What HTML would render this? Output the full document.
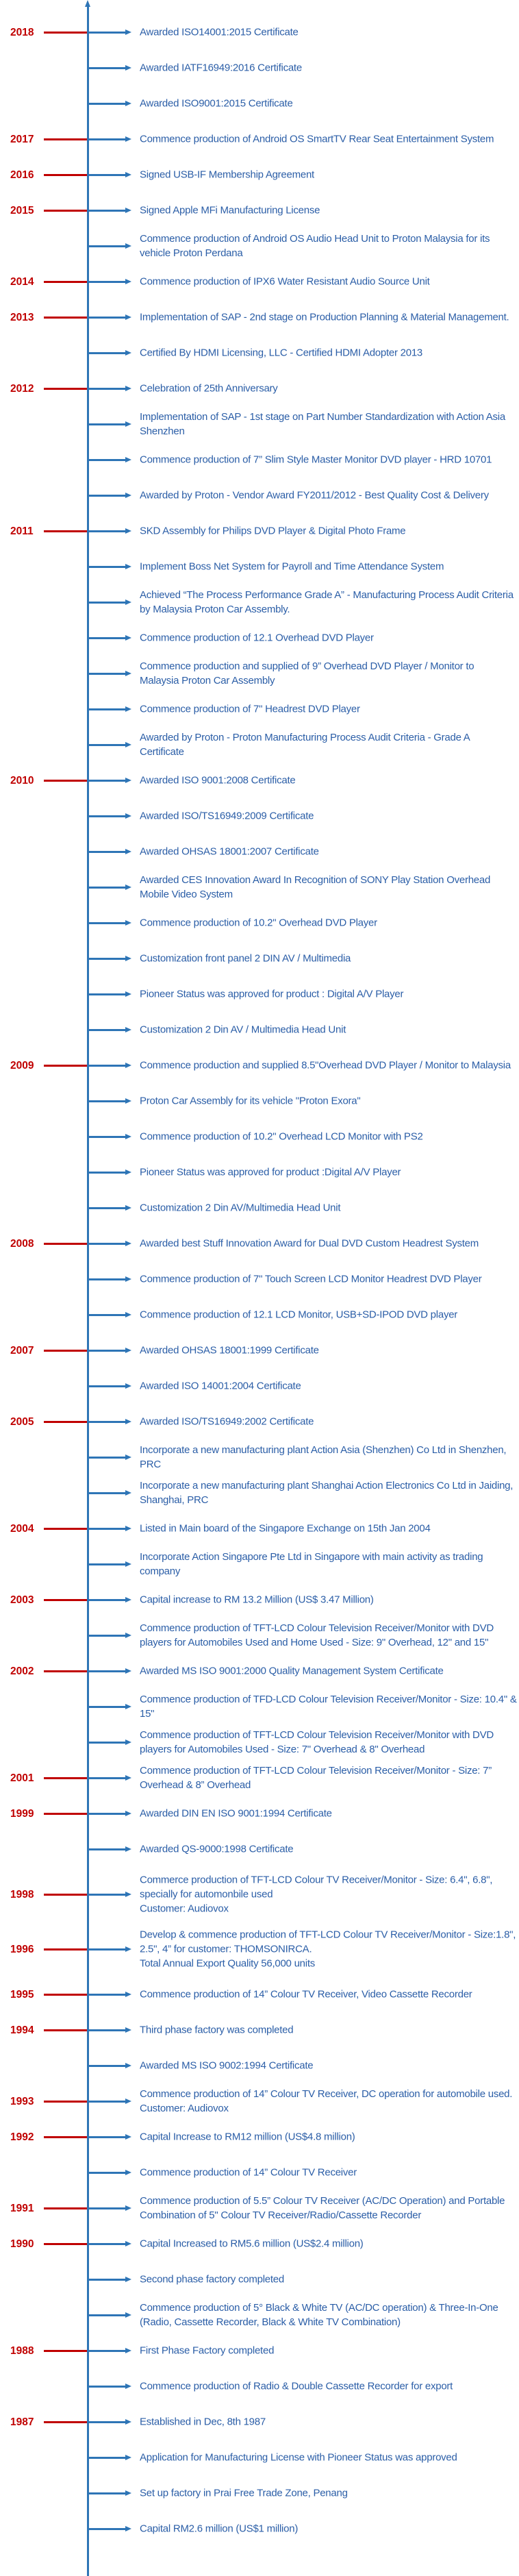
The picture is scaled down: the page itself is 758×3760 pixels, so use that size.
<!DOCTYPE html>
<html>
<head>
<meta charset="utf-8">
<style>
html,body{margin:0;padding:0;}
body{width:758px;height:3760px;position:relative;background:#fff;overflow:hidden;font-family:"Liberation Sans",Arial,sans-serif;}
.axis{position:absolute;left:127px;top:8px;width:3px;height:3752px;background:#2E75B6;}
.axh{position:absolute;left:124px;top:0;width:0;height:0;border-left:4.5px solid transparent;border-right:4.5px solid transparent;border-bottom:10px solid #2E75B6;}
.list{position:absolute;top:21px;left:0;width:758px;}
.r{position:relative;height:52px;}
.r3{height:80px;}
.y{position:absolute;left:15px;top:50%;margin-top:-10.5px;line-height:21px;font-size:15.5px;font-weight:bold;color:#C00000;}
.rl{position:absolute;left:64px;width:63px;top:50%;margin-top:-1.5px;height:3px;background:#C00000;}
.bl{position:absolute;left:130px;width:54px;top:50%;margin-top:-1.5px;height:3px;background:#2E75B6;}
.ah{position:absolute;left:183px;top:50%;margin-top:-4px;width:0;height:0;border-left:9px solid #2E75B6;border-top:4px solid transparent;border-bottom:4px solid transparent;}
.t{position:absolute;left:204px;top:50%;transform:translateY(-50%);font-size:15px;letter-spacing:-0.25px;line-height:21px;color:#2B5EA7;white-space:nowrap;}
</style>
</head>
<body>
<div class="axis"></div>
<div class="axh"></div>
<div class="list">

<div class="r"><span class="rl"></span><span class="y">2018</span><span class="bl"></span><span class="ah"></span><div class="t">Awarded ISO14001:2015 Certificate</div></div>
<div class="r"><span class="bl"></span><span class="ah"></span><div class="t">Awarded IATF16949:2016 Certificate</div></div>
<div class="r"><span class="bl"></span><span class="ah"></span><div class="t">Awarded ISO9001:2015 Certificate</div></div>
<div class="r"><span class="rl"></span><span class="y">2017</span><span class="bl"></span><span class="ah"></span><div class="t">Commence production of Android OS SmartTV Rear Seat Entertainment System</div></div>
<div class="r"><span class="rl"></span><span class="y">2016</span><span class="bl"></span><span class="ah"></span><div class="t">Signed USB-IF Membership Agreement</div></div>
<div class="r"><span class="rl"></span><span class="y">2015</span><span class="bl"></span><span class="ah"></span><div class="t">Signed Apple MFi Manufacturing License</div></div>
<div class="r"><span class="bl"></span><span class="ah"></span><div class="t">Commence production of Android OS Audio Head Unit to Proton Malaysia for its<br>vehicle Proton Perdana</div></div>
<div class="r"><span class="rl"></span><span class="y">2014</span><span class="bl"></span><span class="ah"></span><div class="t">Commence production of IPX6 Water Resistant Audio Source Unit</div></div>
<div class="r"><span class="rl"></span><span class="y">2013</span><span class="bl"></span><span class="ah"></span><div class="t">Implementation of SAP - 2nd stage on Production Planning &amp; Material Management.</div></div>
<div class="r"><span class="bl"></span><span class="ah"></span><div class="t">Certified By HDMI Licensing, LLC - Certified HDMI Adopter 2013</div></div>
<div class="r"><span class="rl"></span><span class="y">2012</span><span class="bl"></span><span class="ah"></span><div class="t">Celebration of 25th Anniversary</div></div>
<div class="r"><span class="bl"></span><span class="ah"></span><div class="t">Implementation of SAP - 1st stage on Part Number Standardization with Action Asia<br>Shenzhen</div></div>
<div class="r"><span class="bl"></span><span class="ah"></span><div class="t">Commence production of 7” Slim Style Master Monitor DVD player - HRD 10701</div></div>
<div class="r"><span class="bl"></span><span class="ah"></span><div class="t">Awarded by Proton - Vendor Award FY2011/2012 - Best Quality Cost &amp; Delivery</div></div>
<div class="r"><span class="rl"></span><span class="y">2011</span><span class="bl"></span><span class="ah"></span><div class="t">SKD Assembly for Philips DVD Player &amp; Digital Photo Frame</div></div>
<div class="r"><span class="bl"></span><span class="ah"></span><div class="t">Implement Boss Net System for Payroll and Time Attendance System</div></div>
<div class="r"><span class="bl"></span><span class="ah"></span><div class="t">Achieved “The Process Performance Grade A” - Manufacturing Process Audit Criteria<br>by Malaysia Proton Car Assembly.</div></div>
<div class="r"><span class="bl"></span><span class="ah"></span><div class="t">Commence production of 12.1 Overhead DVD Player</div></div>
<div class="r"><span class="bl"></span><span class="ah"></span><div class="t">Commence production and supplied of 9” Overhead DVD Player / Monitor to<br>Malaysia Proton Car Assembly</div></div>
<div class="r"><span class="bl"></span><span class="ah"></span><div class="t">Commence production of 7" Headrest DVD Player</div></div>
<div class="r"><span class="bl"></span><span class="ah"></span><div class="t">Awarded by Proton - Proton Manufacturing Process Audit Criteria - Grade A<br>Certificate</div></div>
<div class="r"><span class="rl"></span><span class="y">2010</span><span class="bl"></span><span class="ah"></span><div class="t">Awarded ISO 9001:2008 Certificate</div></div>
<div class="r"><span class="bl"></span><span class="ah"></span><div class="t">Awarded ISO/TS16949:2009 Certificate</div></div>
<div class="r"><span class="bl"></span><span class="ah"></span><div class="t">Awarded OHSAS 18001:2007 Certificate</div></div>
<div class="r"><span class="bl"></span><span class="ah"></span><div class="t">Awarded CES Innovation Award In Recognition of SONY Play Station Overhead<br>Mobile Video System</div></div>
<div class="r"><span class="bl"></span><span class="ah"></span><div class="t">Commence production of 10.2" Overhead DVD Player</div></div>
<div class="r"><span class="bl"></span><span class="ah"></span><div class="t">Customization front panel 2 DIN AV / Multimedia</div></div>
<div class="r"><span class="bl"></span><span class="ah"></span><div class="t">Pioneer Status was approved for product : Digital A/V Player</div></div>
<div class="r"><span class="bl"></span><span class="ah"></span><div class="t">Customization 2 Din AV / Multimedia Head Unit</div></div>
<div class="r"><span class="rl"></span><span class="y">2009</span><span class="bl"></span><span class="ah"></span><div class="t">Commence production and supplied 8.5"Overhead DVD Player / Monitor to Malaysia</div></div>
<div class="r"><span class="bl"></span><span class="ah"></span><div class="t">Proton Car Assembly for its vehicle "Proton Exora"</div></div>
<div class="r"><span class="bl"></span><span class="ah"></span><div class="t">Commence production of 10.2" Overhead LCD Monitor with PS2</div></div>
<div class="r"><span class="bl"></span><span class="ah"></span><div class="t">Pioneer Status was approved for product :Digital A/V Player</div></div>
<div class="r"><span class="bl"></span><span class="ah"></span><div class="t">Customization 2 Din AV/Multimedia Head Unit</div></div>
<div class="r"><span class="rl"></span><span class="y">2008</span><span class="bl"></span><span class="ah"></span><div class="t">Awarded best Stuff Innovation Award for Dual DVD Custom Headrest System</div></div>
<div class="r"><span class="bl"></span><span class="ah"></span><div class="t">Commence production of 7" Touch Screen LCD Monitor Headrest DVD Player</div></div>
<div class="r"><span class="bl"></span><span class="ah"></span><div class="t">Commence production of 12.1 LCD Monitor, USB+SD-IPOD DVD player</div></div>
<div class="r"><span class="rl"></span><span class="y">2007</span><span class="bl"></span><span class="ah"></span><div class="t">Awarded OHSAS 18001:1999 Certificate</div></div>
<div class="r"><span class="bl"></span><span class="ah"></span><div class="t">Awarded ISO 14001:2004 Certificate</div></div>
<div class="r"><span class="rl"></span><span class="y">2005</span><span class="bl"></span><span class="ah"></span><div class="t">Awarded ISO/TS16949:2002 Certificate</div></div>
<div class="r"><span class="bl"></span><span class="ah"></span><div class="t">Incorporate a new manufacturing plant Action Asia (Shenzhen) Co Ltd in Shenzhen,<br>PRC</div></div>
<div class="r"><span class="bl"></span><span class="ah"></span><div class="t">Incorporate a new manufacturing plant Shanghai Action Electronics Co Ltd in Jaiding,<br>Shanghai, PRC</div></div>
<div class="r"><span class="rl"></span><span class="y">2004</span><span class="bl"></span><span class="ah"></span><div class="t">Listed in Main board of the Singapore Exchange on 15th Jan 2004</div></div>
<div class="r"><span class="bl"></span><span class="ah"></span><div class="t">Incorporate Action Singapore Pte Ltd in Singapore with main activity as trading<br>company</div></div>
<div class="r"><span class="rl"></span><span class="y">2003</span><span class="bl"></span><span class="ah"></span><div class="t">Capital increase to RM 13.2 Million (US$ 3.47 Million)</div></div>
<div class="r"><span class="bl"></span><span class="ah"></span><div class="t">Commence production of TFT-LCD Colour Television Receiver/Monitor with DVD<br>players for Automobiles Used and Home Used - Size: 9" Overhead, 12" and 15"</div></div>
<div class="r"><span class="rl"></span><span class="y">2002</span><span class="bl"></span><span class="ah"></span><div class="t">Awarded MS ISO 9001:2000 Quality Management System Certificate</div></div>
<div class="r"><span class="bl"></span><span class="ah"></span><div class="t">Commence production of TFD-LCD Colour Television Receiver/Monitor - Size: 10.4" &amp;<br>15"</div></div>
<div class="r"><span class="bl"></span><span class="ah"></span><div class="t">Commence production of TFT-LCD Colour Television Receiver/Monitor with DVD<br>players for Automobiles Used - Size: 7" Overhead &amp; 8" Overhead</div></div>
<div class="r"><span class="rl"></span><span class="y">2001</span><span class="bl"></span><span class="ah"></span><div class="t">Commence production of TFT-LCD Colour Television Receiver/Monitor - Size: 7”<br>Overhead &amp; 8” Overhead</div></div>
<div class="r"><span class="rl"></span><span class="y">1999</span><span class="bl"></span><span class="ah"></span><div class="t">Awarded DIN EN ISO 9001:1994 Certificate</div></div>
<div class="r"><span class="bl"></span><span class="ah"></span><div class="t">Awarded QS-9000:1998 Certificate</div></div>
<div class="r r3"><span class="rl"></span><span class="y">1998</span><span class="bl"></span><span class="ah"></span><div class="t">Commerce production of TFT-LCD Colour TV Receiver/Monitor - Size: 6.4", 6.8",<br>specially for automonbile used<br>Customer: Audiovox</div></div>
<div class="r r3"><span class="rl"></span><span class="y">1996</span><span class="bl"></span><span class="ah"></span><div class="t">Develop &amp; commence production of TFT-LCD Colour TV Receiver/Monitor - Size:1.8",<br>2.5", 4” for customer: THOMSONIRCA.<br>Total Annual Export Quality 56,000 units</div></div>
<div class="r"><span class="rl"></span><span class="y">1995</span><span class="bl"></span><span class="ah"></span><div class="t">Commence production of 14” Colour TV Receiver, Video Cassette Recorder</div></div>
<div class="r"><span class="rl"></span><span class="y">1994</span><span class="bl"></span><span class="ah"></span><div class="t">Third phase factory was completed</div></div>
<div class="r"><span class="bl"></span><span class="ah"></span><div class="t">Awarded MS ISO 9002:1994 Certificate</div></div>
<div class="r"><span class="rl"></span><span class="y">1993</span><span class="bl"></span><span class="ah"></span><div class="t">Commence production of 14” Colour TV Receiver, DC operation for automobile used.<br>Customer: Audiovox</div></div>
<div class="r"><span class="rl"></span><span class="y">1992</span><span class="bl"></span><span class="ah"></span><div class="t">Capital Increase to RM12 million (US$4.8 million)</div></div>
<div class="r"><span class="bl"></span><span class="ah"></span><div class="t">Commence production of 14” Colour TV Receiver</div></div>
<div class="r"><span class="rl"></span><span class="y">1991</span><span class="bl"></span><span class="ah"></span><div class="t">Commence production of 5.5” Colour TV Receiver (AC/DC Operation) and Portable<br>Combination of 5" Colour TV Receiver/Radio/Cassette Recorder</div></div>
<div class="r"><span class="rl"></span><span class="y">1990</span><span class="bl"></span><span class="ah"></span><div class="t">Capital Increased to RM5.6 million (US$2.4 million)</div></div>
<div class="r"><span class="bl"></span><span class="ah"></span><div class="t">Second phase factory completed</div></div>
<div class="r"><span class="bl"></span><span class="ah"></span><div class="t">Commence production of 5° Black &amp; White TV (AC/DC operation) &amp; Three-In-One<br>(Radio, Cassette Recorder, Black &amp; White TV Combination)</div></div>
<div class="r"><span class="rl"></span><span class="y">1988</span><span class="bl"></span><span class="ah"></span><div class="t">First Phase Factory completed</div></div>
<div class="r"><span class="bl"></span><span class="ah"></span><div class="t">Commence production of Radio &amp; Double Cassette Recorder for export</div></div>
<div class="r"><span class="rl"></span><span class="y">1987</span><span class="bl"></span><span class="ah"></span><div class="t">Established in Dec, 8th 1987</div></div>
<div class="r"><span class="bl"></span><span class="ah"></span><div class="t">Application for Manufacturing License with Pioneer Status was approved</div></div>
<div class="r"><span class="bl"></span><span class="ah"></span><div class="t">Set up factory in Prai Free Trade Zone, Penang</div></div>
<div class="r"><span class="bl"></span><span class="ah"></span><div class="t">Capital RM2.6 million (US$1 million)</div></div>

</div>
</body>
</html>
